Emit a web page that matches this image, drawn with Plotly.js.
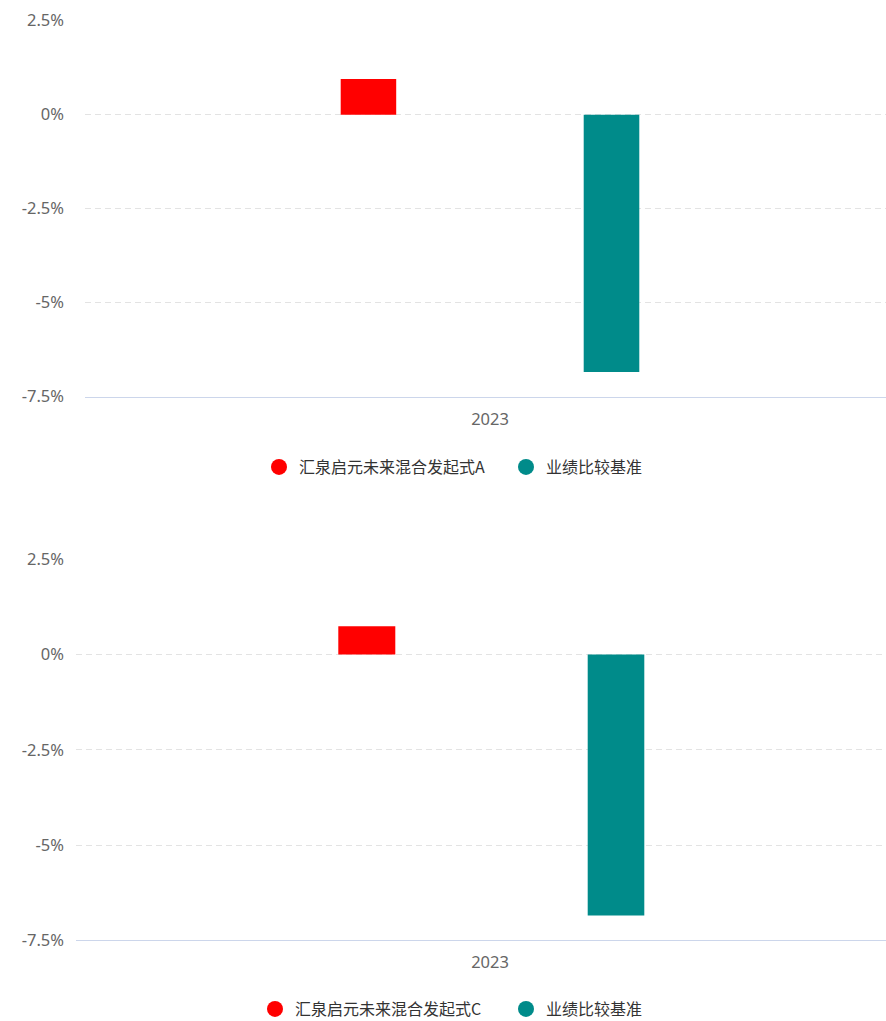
<!DOCTYPE html>
<html>
<head>
<meta charset="utf-8">
<script src="https://cdn.plot.ly/plotly-3.0.1.min.js"></script>
<style>html,body{margin:0;padding:0;background:#fff;}#chart{width:886px;height:1021px;}</style>
</head>
<body>
<div id="chart"></div>
<script>
// Data
const categories = ['2023'];
const fundNameA = '汇泉启元未来混合发起式A';
const fundNameC = '汇泉启元未来混合发起式C';
const benchName = '业绩比较基准';
const fundA = [0.95];
const benchA = [-6.84];
const fundC = [0.74];
const benchC = [-6.85];
const yTickVals = [-7.5, -5, -2.5, 0, 2.5];
const yTickText = ['-7.5%', '-5%', '-2.5%', '0%', '2.5%'];

const RED = '#ff0000', TEAL = '#008b8a';
const W = 886, H = 1021;

// layout geometry (pixels)
const gTop = {l: 85, c: 490, y0: 20.7, y1: 396.7, redL: 340.7, redW: 55.5, tealL: 583.7, tealW: 55.6};
const gBot = {l: 76, c: 490, y0: 559.3, y1: 940.3, redL: 338.3, redW: 57, tealL: 587.7, tealW: 56.6};
function frac(g, px){ return (px - g.c)/(W - g.l); }
function wid(g, px){ return px/(W - g.l); }

const traces = [
  {type:'bar', x:categories, y:fundA, xaxis:'x', yaxis:'y', marker:{color:RED}, width:[wid(gTop,gTop.redW)], offset:[frac(gTop,gTop.redL)], showlegend:false, hoverinfo:'y'},
  {type:'bar', x:categories, y:benchA, xaxis:'x', yaxis:'y', marker:{color:TEAL}, width:[wid(gTop,gTop.tealW)], offset:[frac(gTop,gTop.tealL)], showlegend:false, hoverinfo:'y'},
  {type:'bar', x:categories, y:fundC, xaxis:'x2', yaxis:'y2', marker:{color:RED}, width:[wid(gBot,gBot.redW)], offset:[frac(gBot,gBot.redL)], showlegend:false, hoverinfo:'y'},
  {type:'bar', x:categories, y:benchC, xaxis:'x2', yaxis:'y2', marker:{color:TEAL}, width:[wid(gBot,gBot.tealW)], offset:[frac(gBot,gBot.tealL)], showlegend:false, hoverinfo:'y'},
  // legend entries
  {type:'scatter', mode:'markers', x:[null], y:[null], xaxis:'x', yaxis:'y', name:fundNameA, marker:{color:RED, size:16, symbol:'circle'}, legend:'legend'},
  {type:'scatter', mode:'markers', x:[null], y:[null], xaxis:'x', yaxis:'y', name:benchName, marker:{color:TEAL, size:16, symbol:'circle'}, legend:'legend'},
  {type:'scatter', mode:'markers', x:[null], y:[null], xaxis:'x2', yaxis:'y2', name:fundNameC, marker:{color:RED, size:16, symbol:'circle'}, legend:'legend2'},
  {type:'scatter', mode:'markers', x:[null], y:[null], xaxis:'x2', yaxis:'y2', name:benchName, marker:{color:TEAL, size:16, symbol:'circle'}, legend:'legend2'}
];

const tickFont = {family:'"Noto Sans", "Open Sans", sans-serif', size:16.5, color:'#666666'};
const legFont = {family:'"Noto Sans CJK SC", sans-serif', size:16, color:'#333333'};

function yax(g){
  return {
    domain:[1 - g.y1/H, 1 - g.y0/H], range:[-7.5, 2.5], tickvals:yTickVals, ticktext:yTickText,
    showgrid:true, gridcolor:'#e3e3e3', griddash:'6px,4px', gridwidth:1,
    zeroline:false, showline:false, ticks:'', ticklabelstandoff:20, tickfont:tickFont, fixedrange:true
  };
}
function xax(g, anchor){
  const w = W - g.l;
  return {
    domain:[g.l/W, 1], anchor:anchor, type:'category', range:[-(g.c - g.l)/w, (W - g.c)/w],
    showgrid:false, zeroline:false, showline:true, linecolor:'#ccd6eb', linewidth:1,
    ticks:'', ticklabelstandoff:7, tickfont:tickFont, fixedrange:true
  };
}

const layout = {
  width:W, height:H, margin:{l:0, r:0, t:0, b:0, autoexpand:false},
  paper_bgcolor:'#ffffff', plot_bgcolor:'#ffffff',
  barmode:'overlay',
  xaxis: xax(gTop, 'y'), yaxis: yax(gTop),
  xaxis2: xax(gBot, 'y2'), yaxis2: yax(gBot),
  legend:{orientation:'h', x:259/W, xanchor:'left', y:1 - 467/H, yanchor:'middle', font:legFont, bgcolor:'rgba(0,0,0,0)', entrywidth:202, itemclick:false, itemdoubleclick:false},
  legend2:{orientation:'h', x:255/W, xanchor:'left', y:1 - 1009/H, yanchor:'middle', font:legFont, bgcolor:'rgba(0,0,0,0)', entrywidth:206, itemclick:false, itemdoubleclick:false},
  showlegend:true
};

Plotly.newPlot('chart', traces, layout, {displayModeBar:false});
</script>
</body>
</html>
